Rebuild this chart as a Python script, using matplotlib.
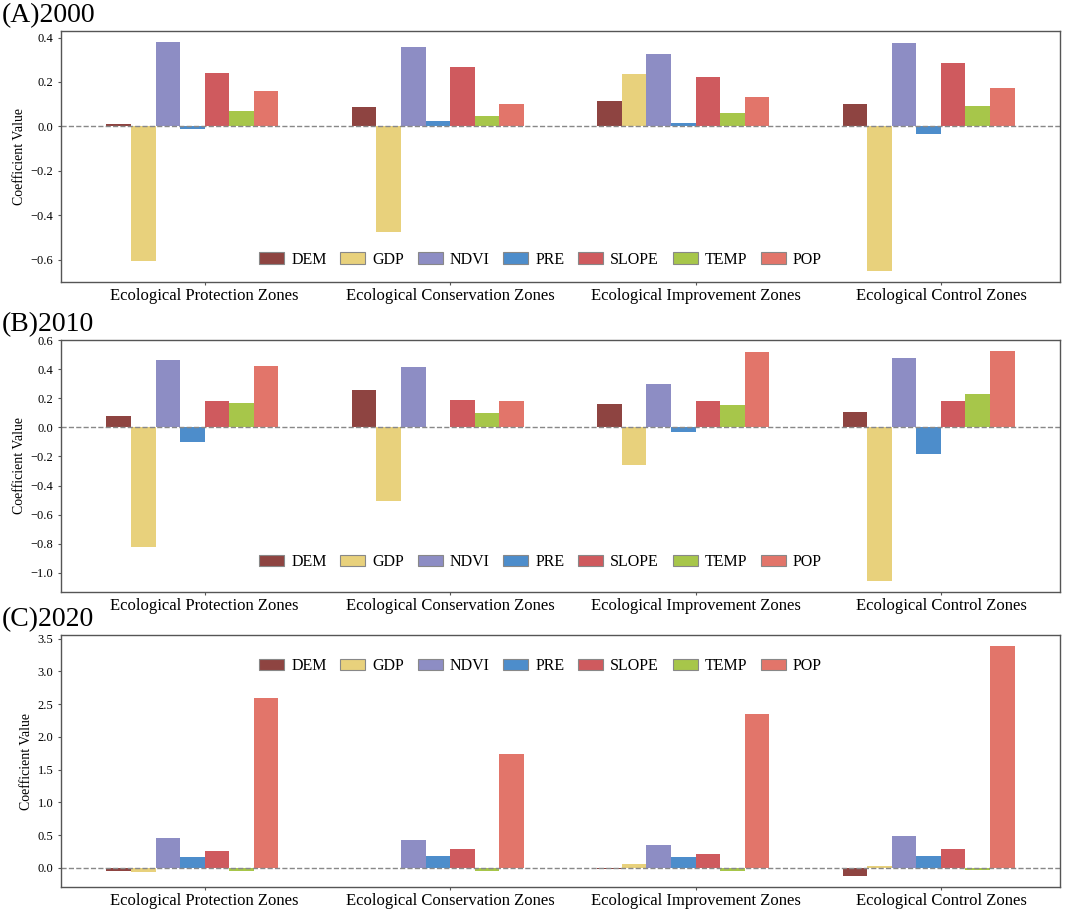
import numpy as np
import matplotlib
matplotlib.use("Agg")
from matplotlib import pyplot as plt
from matplotlib.patches import Patch

plt.rcParams['font.family'] = ['Liberation Serif', 'DejaVu Serif']

zones = ["Ecological Protection Zones", "Ecological Conservation Zones",
         "Ecological Improvement Zones", "Ecological Control Zones"]
factors = ["DEM", "GDP", "NDVI", "PRE", "SLOPE", "TEMP", "POP"]
colors = ["#8E4441", "#E8D17C", "#8D8DC4", "#4D8DCB", "#CF5A5E", "#A7C64A", "#E2756A"]

# rows = factors, columns = zones
coef_2000 = [
    [0.009, 0.087, 0.113, 0.103],
    [-0.604, -0.476, 0.234, -0.648],
    [0.378, 0.358, 0.327, 0.376],
    [-0.013, 0.025, 0.016, -0.036],
    [0.240, 0.267, 0.221, 0.285],
    [0.070, 0.046, 0.060, 0.093],
    [0.160, 0.100, 0.131, 0.175],
]
coef_2010 = [
    [0.078, 0.257, 0.163, 0.106],
    [-0.823, -0.506, -0.262, -1.055],
    [0.462, 0.414, 0.301, 0.476],
    [-0.101, 0.005, -0.030, -0.184],
    [0.184, 0.190, 0.184, 0.182],
    [0.166, 0.101, 0.152, 0.228],
    [0.421, 0.182, 0.520, 0.524],
]
coef_2020 = [
    [-0.046, -0.008, -0.015, -0.117],
    [-0.066, -0.008, 0.066, 0.025],
    [0.459, 0.423, 0.342, 0.480],
    [0.168, 0.189, 0.168, 0.184],
    [0.265, 0.286, 0.214, 0.286],
    [-0.040, -0.040, -0.040, -0.036],
    [2.600, 1.735, 2.350, 3.380],
]
titles = ["(A)2000", "(B)2010", "(C)2020"]

fig = plt.figure(figsize=(10.65, 9.09), dpi=100)
# [left, bottom, width, height]
boxes = [[0.0573, 0.6898, 0.938, 0.2761],
         [0.0573, 0.3487, 0.938, 0.2773],
         [0.0573, 0.0242, 0.938, 0.2772]]
legend_loc = ["lower center", "lower center", "upper center"]
legend_y = [0.0, 0.03, 0.965]

w = 0.1
x = np.arange(len(zones))
for k, data in enumerate([coef_2000, coef_2010, coef_2020]):
    ax = fig.add_axes(boxes[k])
    for j, f in enumerate(factors):
        ax.bar(x + (j - 3.5) * w, data[j], w, color=colors[j],
               linewidth=0, label=f)
    ax.axhline(0, color='#888888', linestyle='--', linewidth=1, zorder=2.5)
    ax.set_xticks(x)
    ax.set_xticklabels(zones, fontsize=12)
    ax.tick_params(axis='y', labelsize=9, length=2.5, pad=3)
    ax.tick_params(axis='x', length=2.5, pad=1.5)
    ax.set_ylabel("Coefficient Value", fontsize=10, labelpad=3)
    for s in ax.spines.values():
        s.set_color('#555555')
        s.set_linewidth(1.0)
    ax.tick_params(colors='#555555', labelcolor='black')
    handles = [Patch(facecolor=c, edgecolor='#888888', linewidth=0.8) for c in colors]
    ax.legend(handles, factors, loc=legend_loc[k], bbox_to_anchor=(0.48, legend_y[k]),
              ncol=7, frameon=False, fontsize=11.5, handlelength=1.56,
              handletextpad=0.45, columnspacing=0.85)
    ax.annotate(titles[k], xy=(0, 1), xycoords='axes fraction',
                xytext=(-59, 9), textcoords='offset pixels',
                fontsize=20, va='baseline', ha='left', annotation_clip=False)

fig.savefig("out.png", dpi=100)
